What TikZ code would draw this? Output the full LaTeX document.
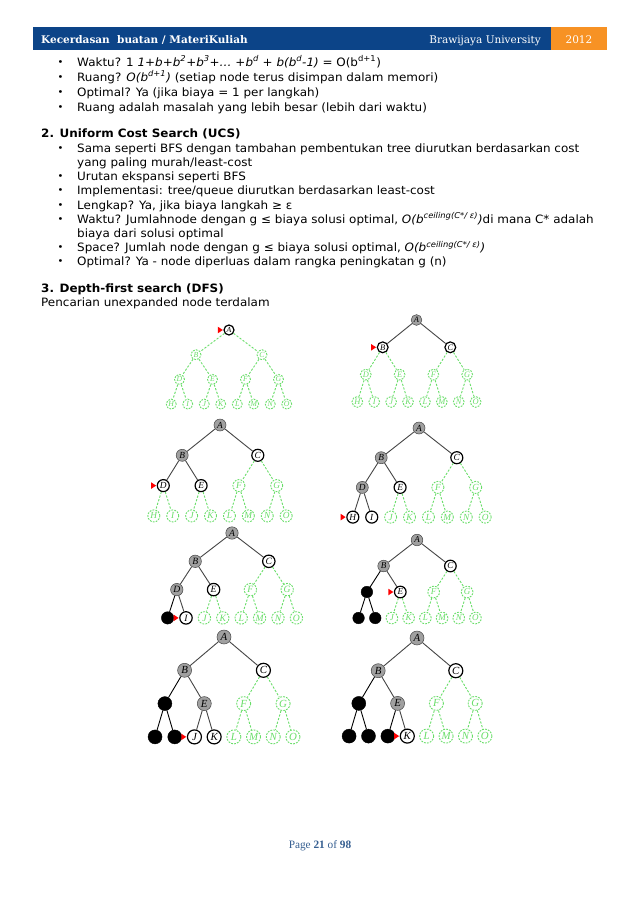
\documentclass[tikz,border=0pt]{standalone}
\usepackage{fontspec}
\setmainfont[FakeStretch=1.04]{DejaVu Sans}
\newfontfamily\headfont{DejaVu Serif}
\newfontfamily\footfont{Liberation Serif}
\newfontfamily\labelfont{Liberation Serif}
\usepackage{tikz}
\usetikzlibrary{positioning}
\usepackage{xcolor}

\definecolor{hdblue}{RGB}{12,68,136}
\definecolor{hdorange}{RGB}{247,146,36}
\definecolor{ftblue}{RGB}{54,95,145}
\definecolor{newgreen}{RGB}{105,222,105}
\definecolor{donegray}{RGB}{160,160,160}
\definecolor{edgegray}{RGB}{70,70,70}

\newcommand{\itembul}{\makebox[19.5pt][l]{\raisebox{0.6pt}{\fontsize{9.5}{10}\selectfont •}}}

% #1 prefix, #2 root, #3 leaf gap, #4 level gap, #5 radius, #6 states, #7 marked node
\newcommand{\dfstree}[7]{%
  \foreach \n in {A,B,C,D,E,F,G,H,I,J,K,L,M,N,O}
    {\expandafter\gdef\csname st\n\endcsname{n}}%
  \foreach \n/\s in {#6}
    {\expandafter\xdef\csname st\n\endcsname{\s}}%
  \pgfmathsetmacro\treefs{1.55*#5}%
  \begin{scope}[shift={#2}, x=#3pt, y=-#4pt,
      every node/.append style={minimum size=2*#5pt, inner sep=0pt,
        font=\labelfont\fontsize{\treefs}{\treefs}\selectfont\itshape}]
    \foreach \n/\px/\lv/\p in {A/0/0/A, B/-2/1/A, C/2/1/A, D/-3/2/B, E/-1/2/B,
        F/1/2/C, G/3/2/C, H/-3.5/3/D, I/-2.5/3/D, J/-1.5/3/E, K/-0.5/3/E,
        L/0.5/3/F, M/1.5/3/F, N/2.5/3/G, O/3.5/3/G} {
      \edef\s{\csname st\n\endcsname}
      \node[s\s] (#1\n) at (\px,\lv) {\n};
      \ifx\p\n\else \draw[e\s] (#1\p) -- (#1\n); \fi
    }
    \fill[red] ([xshift=-0.6pt]#1#7.west) -- ++(-5pt,3.3pt) -- ++(0pt,-6.6pt) -- cycle;
  \end{scope}
}

\begin{document}
\begin{tikzpicture}[x=1pt, y=-1pt,
    sn/.style={circle, draw=newgreen, dash pattern=on 1.8pt off 1.2pt, line width=0.9pt,
      text=newgreen, fill=white},
    so/.style={circle, draw=black, line width=1.2pt, fill=white, text=black},
    sd/.style={circle, draw=edgegray, line width=0.5pt, fill=donegray, text=black},
    sg/.style={circle, draw=black, fill=black, text=black},
    en/.style={draw=newgreen, dash pattern=on 2.2pt off 1.6pt, line width=0.9pt},
    eo/.style={draw=edgegray, line width=0.9pt},
    ed/.style={eo},
    eg/.style={draw=black, line width=0.9pt},
    txt/.style={anchor=base west, inner sep=0pt, font=\fontsize{11.5}{13}\selectfont},
    hdtxt/.style={anchor=base west, inner sep=0pt, text=white,
      font=\headfont\fontsize{10.5}{12}\selectfont}]
  \useasboundingbox (0,0) rectangle (638,903);
  \fill[white] (0,0) rectangle (638,903);

  % header
  \fill[hdblue] (33,27) rectangle (551,50);
  \fill[hdorange] (551,27) rectangle (607,50);
  \node[hdtxt, font=\headfont\bfseries\fontsize{10.5}{12}\selectfont] (hdl) at (41,43)
    {Kecerdasan\ \ buatan / MateriKuliah};
  \node[hdtxt, anchor=base east] (hdr) at (541,43) {Brawijaya University};
  \node[hdtxt, anchor=base] (hdy) at (579,43) {2012};

  % text
  \node[txt] (l1) at (57.5,66) {\itembul Waktu? 1 \textit{1+b+b\textsuperscript{2}+b\textsuperscript{3}+… +b\textsuperscript{d} + b(b\textsuperscript{d}-1)} = O(b\textsuperscript{d+1})};
  \node[txt] (l2) at (57.5,81) {\itembul Ruang? \textit{O(b\textsuperscript{d+1})} (setiap node terus disimpan dalam memori)};
  \node[txt] (l3) at (57.5,96) {\itembul Optimal? Ya (jika biaya = 1 per langkah)};
  \node[txt] (l4) at (57.5,111) {\itembul Ruang adalah masalah yang lebih besar (lebih dari waktu)};

  \node[txt, font=\bfseries\fontsize{11.5}{13}\selectfont] (ucs) at (41,137.5) {2. Uniform Cost Search (UCS)};
  \node[txt] (u1) at (57.5,152) {\itembul Sama seperti BFS dengan tambahan pembentukan tree diurutkan berdasarkan cost};
  \node[txt] (u1b) at (77,166) {yang paling murah/least-cost};
  \node[txt] (u2) at (57.5,180) {\itembul Urutan ekspansi seperti BFS};
  \node[txt] (u3) at (57.5,194.5) {\itembul Implementasi: tree/queue diurutkan berdasarkan least-cost};
  \node[txt] (u4) at (57.5,209) {\itembul Lengkap? Ya, jika biaya langkah ≥ ε};
  \node[txt] (u5) at (57.5,223) {\itembul Waktu? Jumlahnode dengan g ≤ biaya solusi optimal, \textit{O(b\textsuperscript{ceiling(C*/ ε)})}di mana C* adalah};
  \node[txt] (u5b) at (77,237) {biaya dari solusi optimal};
  \node[txt] (u6) at (57.5,251.5) {\itembul Space? Jumlah node dengan g ≤ biaya solusi optimal, \textit{O(b\textsuperscript{ceiling(C*/ ε)})}};
  \node[txt] (u7) at (57.5,265.5) {\itembul Optimal? Ya - node diperluas dalam rangka peningkatan g (n)};

  \node[txt, font=\bfseries\fontsize{11.5}{13}\selectfont] (dfs) at (41,292) {3. Depth-first search (DFS)};
  \node[txt] (d1) at (41,306) {Pencarian unexpanded node terdalam};

  % trees
  \dfstree{ta}{(229,330)}{16.5}{24.7}{5}{A/o}{A}
  \dfstree{tb}{(416.5,320)}{16.9}{27.3}{5.4}{A/d,B/o,C/o}{B}
  \dfstree{tc}{(220,425)}{18.9}{30.3}{6}{A/d,B/d,C/o,D/o,E/o}{D}
  \dfstree{td}{(419,428)}{18.9}{29.7}{6}{A/d,B/d,C/o,D/d,E/o,H/o,I/o}{H}
  \dfstree{te}{(232,533)}{18.4}{28.3}{6.2}{A/d,B/d,C/o,D/d,E/o,H/g,I/o}{I}
  \dfstree{tf}{(417,540)}{16.7}{26}{5.8}{A/d,B/d,C/o,D/g,E/o,H/g,I/g}{E}
  \dfstree{tg}{(224,637)}{19.7}{33.3}{7}{A/d,B/d,C/o,D/g,E/d,H/g,I/g,J/o,K/o}{J}
  \dfstree{th}{(417,638)}{19.4}{32.7}{7}{A/d,B/d,C/o,D/g,E/d,H/g,I/g,J/g,K/o}{K}

  % footer
  \node[anchor=base, inner sep=0pt, text=ftblue, font=\footfont\fontsize{11.3}{12}\selectfont]
    (foot) at (320,848) {Page \textbf{21} of \textbf{98}};
\end{tikzpicture}
\end{document}
